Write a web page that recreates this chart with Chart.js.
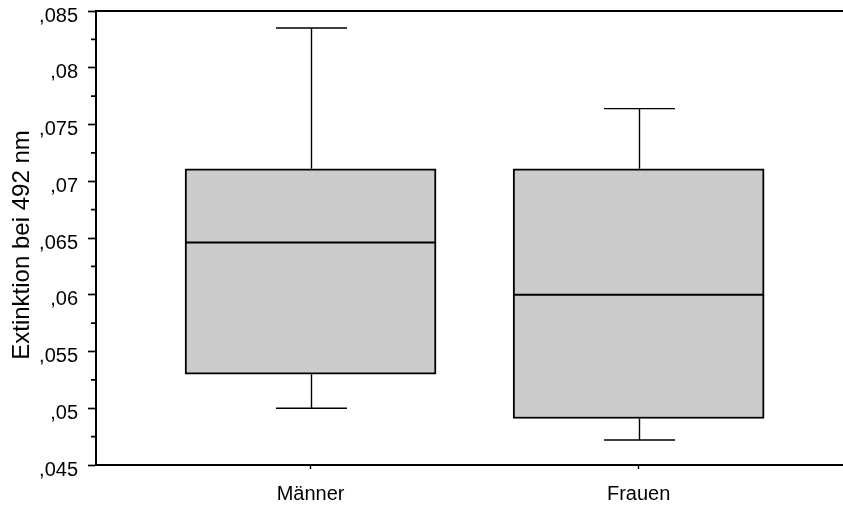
<!DOCTYPE html>
<html>
<head>
<meta charset="utf-8">
<script src="https://cdn.jsdelivr.net/npm/chart.js@4/dist/chart.umd.min.js"></script>
<style>
  html, body { margin: 0; padding: 0; background: #ffffff; }
  #wrap { width: 843px; height: 506px; }
</style>
</head>
<body>
<div id="wrap"><canvas id="c" width="843" height="506"></canvas></div>
<script>
// Box plot of absorbance at 492 nm by group
const categories = ['Männer', 'Frauen'];
const positions = [1, 2];
const minima  = [0.0500, 0.0472];
const q1      = [0.0530, 0.0491];
const medians = [0.0646, 0.0600];
const q3      = [0.0711, 0.0711];
const maxima  = [0.0835, 0.0764];

const yTickValues = [0.045, 0.05, 0.055, 0.06, 0.065, 0.07, 0.075, 0.08, 0.085];
const yTickLabels = [',045', ',05', ',055', ',06', ',065', ',07', ',075', ',08', ',085'];
const yMinorTicks = [0.0475, 0.0525, 0.0575, 0.0625, 0.0675, 0.0725, 0.0775, 0.0825];
const yTitle = 'Extinktion bei 492 nm';

const FONT = '"Liberation Sans", Arial, Helvetica, sans-serif';

// whiskers, caps, medians, minor ticks, top frame line and the value-axis title
const boxExtras = {
  id: 'boxExtras',
  afterDatasetsDraw(chart) {
    const ctx = chart.ctx;
    const xs = chart.scales.x;
    const ys = chart.scales.y;
    const area = chart.chartArea;
    const meta = chart.getDatasetMeta(0);
    ctx.save();
    ctx.strokeStyle = '#000';
    ctx.lineCap = 'butt';

    positions.forEach((p, i) => {
      const cx = Math.round(xs.getPixelForValue(p)) + 0.5;
      const bar = meta.data[i];
      const half = bar.width / 2;
      const capHalf = 35.5;
      const yMax = ys.getPixelForValue(maxima[i]);
      const yQ3 = ys.getPixelForValue(q3[i]);
      const yQ1 = ys.getPixelForValue(q1[i]);
      const yMin = ys.getPixelForValue(minima[i]);
      const yMed = ys.getPixelForValue(medians[i]);

      ctx.lineWidth = 1.4;
      ctx.beginPath();
      ctx.moveTo(cx, yQ3); ctx.lineTo(cx, yMax);
      ctx.moveTo(cx - capHalf, yMax); ctx.lineTo(cx + capHalf, yMax);
      ctx.moveTo(cx, yQ1); ctx.lineTo(cx, yMin);
      ctx.moveTo(cx - capHalf, yMin); ctx.lineTo(cx + capHalf, yMin);
      ctx.stroke();

      ctx.lineWidth = 2;
      ctx.beginPath();
      ctx.moveTo(bar.x - half, yMed); ctx.lineTo(bar.x + half, yMed);
      ctx.stroke();
    });

    // minor ticks on the value axis
    ctx.lineWidth = 1.7;
    ctx.beginPath();
    yMinorTicks.forEach(v => {
      const y = ys.getPixelForValue(v);
      ctx.moveTo(area.left - 5, y); ctx.lineTo(area.left, y);
    });
    ctx.stroke();

    // top frame line
    ctx.lineWidth = 2;
    ctx.beginPath();
    ctx.moveTo(area.left - 1, area.top); ctx.lineTo(chart.width, area.top);
    ctx.stroke();

    // rotated value-axis title, slightly below the axis centre
    ctx.fillStyle = '#000';
    ctx.font = '24px ' + FONT;
    ctx.textAlign = 'center';
    ctx.textBaseline = 'middle';
    ctx.translate(22, (area.top + area.bottom) / 2 + 7);
    ctx.rotate(-Math.PI / 2);
    ctx.fillText(yTitle, 0, 0);
    ctx.restore();
  }
};

new Chart(document.getElementById('c'), {
  type: 'bar',
  data: {
    datasets: [{
      data: positions.map((p, i) => ({ x: p, y: [q1[i], q3[i]] })),
      backgroundColor: '#cccccc',
      borderColor: '#000000',
      borderWidth: 2,
      borderSkipped: false,
      barThickness: 251
    }]
  },
  options: {
    responsive: false,
    animation: false,
    events: [],
    layout: { padding: { top: 11, right: 0, bottom: 0, left: 0 } },
    plugins: { legend: { display: false }, tooltip: { enabled: false } },
    scales: {
      x: {
        type: 'linear',
        offset: false,
        min: 0.346,
        max: 2.623,
        afterBuildTicks(scale) { scale.ticks = positions.map(v => ({ value: v })); },
        afterFit(scale) { scale.height = 41; },
        ticks: {
          color: '#000',
          font: { family: FONT, size: 20 },
          padding: 13,
          callback: (v) => categories[positions.indexOf(v)] ?? ''
        },
        grid: { offset: false, drawOnChartArea: false, tickLength: 4, tickColor: '#000', tickWidth: 1.4 },
        border: { color: '#000', width: 2 }
      },
      y: {
        type: 'linear',
        min: 0.045,
        max: 0.085,
        afterBuildTicks(scale) { scale.ticks = yTickValues.map(v => ({ value: v })); },
        afterFit(scale) { scale.width = 96; scale.paddingTop = 0; scale.paddingBottom = 0; },
        ticks: {
          color: '#000',
          font: { family: FONT, size: 20 },
          padding: 10,
          labelOffset: 5,
          callback: (v) => yTickLabels[yTickValues.findIndex(t => Math.abs(t - v) < 1e-9)]
        },
        grid: { drawOnChartArea: false, tickLength: 8, tickColor: '#000', tickWidth: 1.7 },
        border: { color: '#000', width: 2 }
      }
    }
  },
  plugins: [boxExtras]
});
</script>
</body>
</html>
